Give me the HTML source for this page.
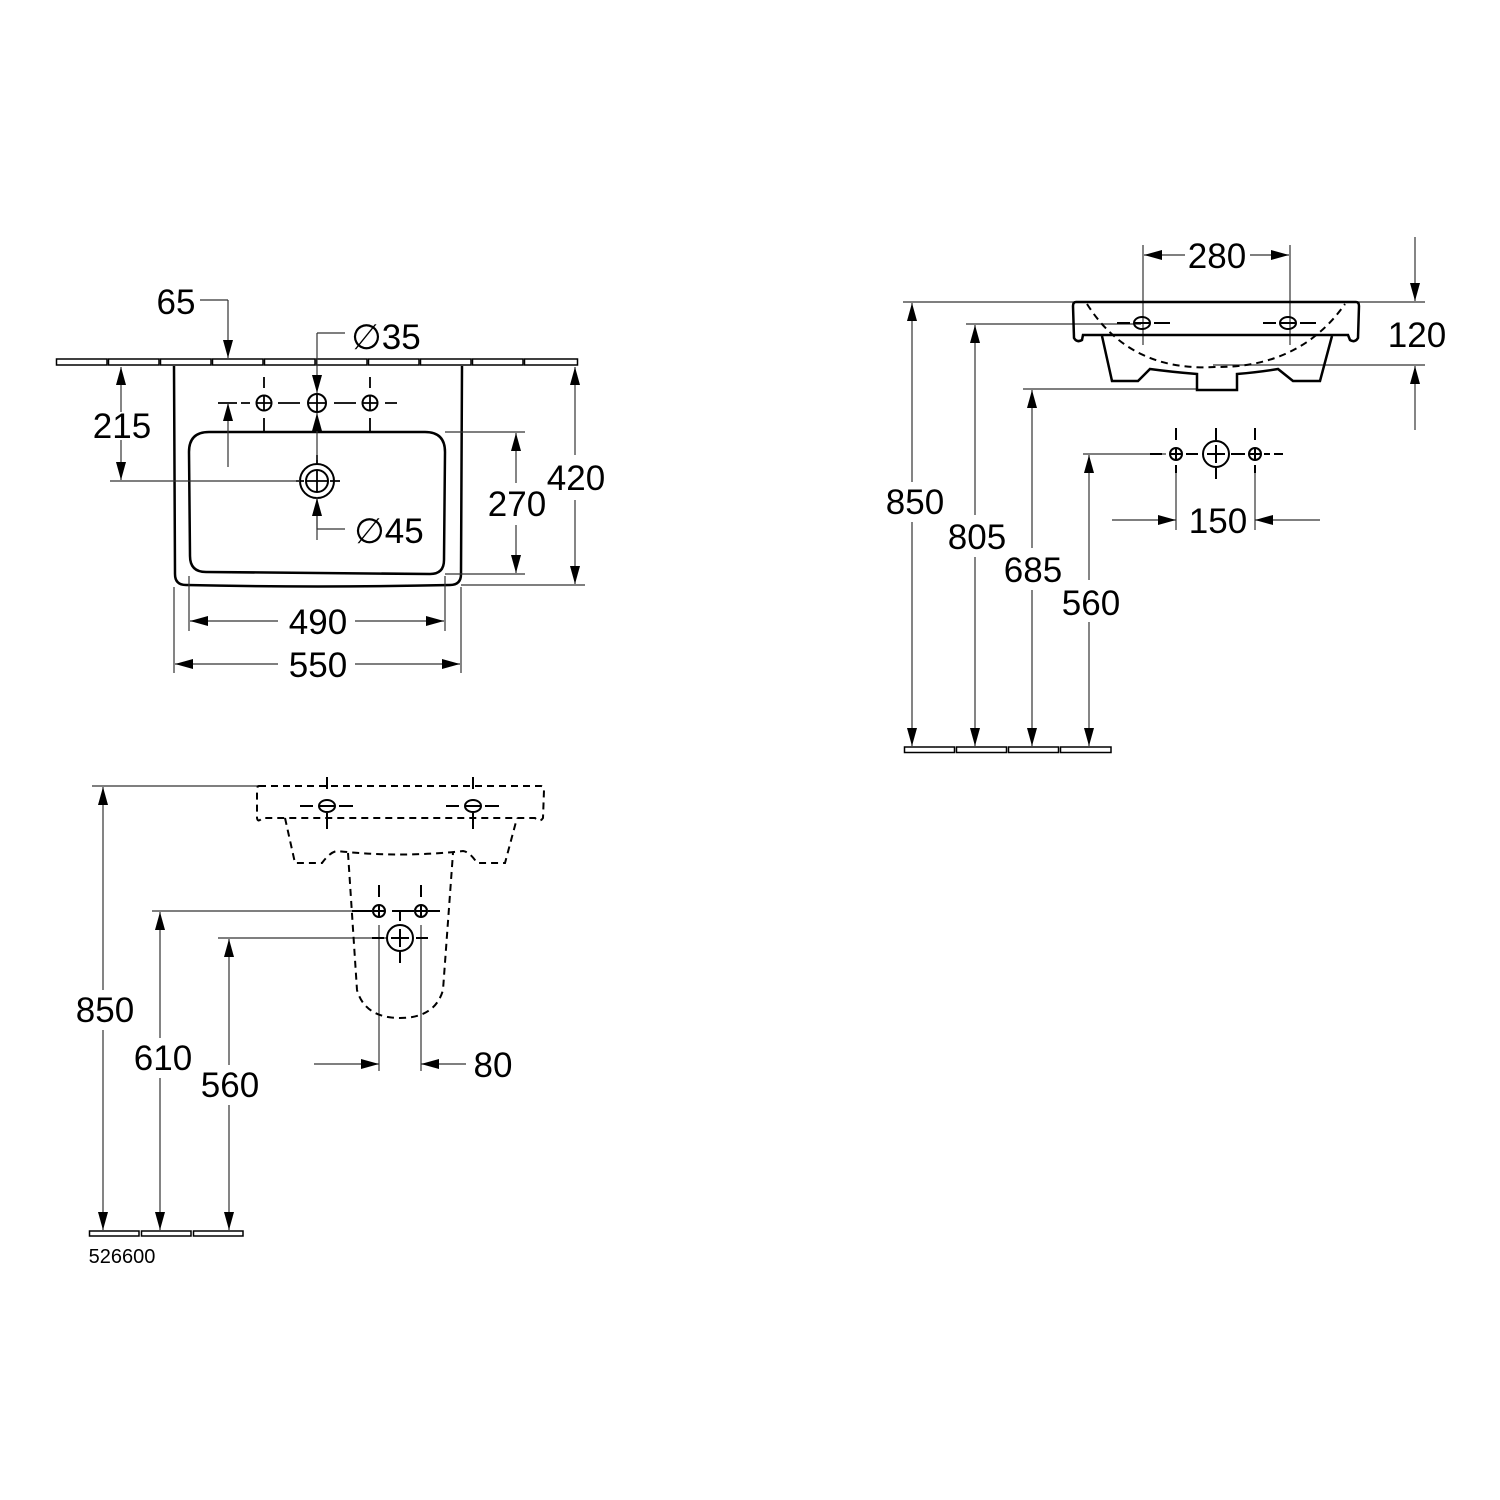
<!DOCTYPE html>
<html><head><meta charset="utf-8"><style>
html,body{margin:0;padding:0;background:#fff}
svg{display:block}
text{font-family:"Liberation Sans","DejaVu Sans",sans-serif;font-size:35px;fill:#000;text-anchor:middle}
</style></head><body>
<svg width="1500" height="1500" viewBox="0 0 1500 1500" xmlns="http://www.w3.org/2000/svg">
<defs>
<marker id="a" viewBox="0 0 18 10" refX="18" refY="5" markerWidth="18" markerHeight="10" markerUnits="userSpaceOnUse" orient="auto-start-reverse">
<path d="M0,0 L18,5 L0,10 z" fill="#000"/></marker>
</defs>
<rect width="1500" height="1500" fill="#fff"/>

<!-- ============ TOP LEFT ============ -->
<g fill="#fff" stroke="#000" stroke-width="1.5">
<rect x="56.5" y="359" width="50.5" height="6"/><rect x="108.5" y="359" width="50.5" height="6"/>
<rect x="160.5" y="359" width="50.5" height="6"/><rect x="212.5" y="359" width="50.5" height="6"/>
<rect x="264.5" y="359" width="50.5" height="6"/><rect x="316.5" y="359" width="50.5" height="6"/>
<rect x="368.5" y="359" width="50.5" height="6"/><rect x="420.5" y="359" width="50.5" height="6"/>
<rect x="472.5" y="359" width="50.5" height="6"/><rect x="524.5" y="359" width="53" height="6"/>
</g>
<g fill="none" stroke="#000" stroke-width="2.5">
<path d="M174,366 L175,574 Q175,585 186,585 Q318,588 450,585 Q461,585 461,574 L462,366"/>
<path d="M209,432 L425,432 Q445,432 445,452 L444,560 Q444,574 430,574 L206,572 Q190,572 190,556 L189,452 Q189,432 209,432 Z"/>
</g>
<g fill="none" stroke="#000" stroke-width="2">
<circle cx="264" cy="403" r="7.5"/><circle cx="317" cy="403" r="9"/><circle cx="370" cy="403" r="7.5"/>
<circle cx="317" cy="481" r="17"/><circle cx="317" cy="481" r="11"/>
</g>
<g stroke="#000" stroke-width="1.8">
<path d="M257,403h14M264,396v14M308,403h18M317,394v18M363,403h14M370,396v14M306,481h22M317,470v22"/>
<path d="M264,377v11M264,418v14M370,377v11M370,418v14M218,403h19M241,403h9M278,403h22M334,403h22M385,403h12"/>
<path d="M296,481h8M330,481h10M317,455v10"/>
</g>
<g stroke="#333" stroke-width="1.2" fill="none">
<path d="M110,481h190"/>
<line x1="121" y1="367" x2="121" y2="412" marker-start="url(#a)"/>
<line x1="121" y1="440" x2="121" y2="480" marker-end="url(#a)"/>
<path d="M200,300h28"/>
<line x1="228" y1="300" x2="228" y2="358" marker-end="url(#a)"/>
<line x1="228" y1="467" x2="228" y2="403" marker-end="url(#a)"/>
<path d="M317,333h28"/>
<line x1="317" y1="333" x2="317" y2="393" marker-end="url(#a)"/>
<line x1="317" y1="460" x2="317" y2="413" marker-end="url(#a)"/>
<path d="M317,497v32h28"/>
<line x1="317" y1="540" x2="317" y2="498" marker-end="url(#a)"/>
<path d="M445,432h80M445,574h80M461,585h124"/>
<line x1="516" y1="433" x2="516" y2="483" marker-start="url(#a)"/>
<line x1="516" y1="525" x2="516" y2="573" marker-end="url(#a)"/>
<line x1="575" y1="367" x2="575" y2="455" marker-start="url(#a)"/>
<line x1="575" y1="500" x2="575" y2="584" marker-end="url(#a)"/>
<path d="M189,576v55M445,576v55M174,587v86M461,587v86"/>
<line x1="190" y1="621" x2="278" y2="621" marker-start="url(#a)"/>
<line x1="355" y1="621" x2="444" y2="621" marker-end="url(#a)"/>
<line x1="175" y1="664" x2="278" y2="664" marker-start="url(#a)"/>
<line x1="355" y1="664" x2="460" y2="664" marker-end="url(#a)"/>
</g>
<text x="176" y="314">65</text>
<text x="122" y="438">215</text>
<text x="386" y="349">∅35</text>
<text x="389" y="543">∅45</text>
<text x="517" y="516">270</text>
<text x="576" y="490">420</text>
<text x="318" y="634">490</text>
<text x="318" y="677">550</text>

<!-- ============ RIGHT ============ -->
<g fill="#fff" stroke="#000" stroke-width="1.5">
<rect x="904.5" y="747" width="50" height="5.5"/><rect x="956.5" y="747" width="50" height="5.5"/>
<rect x="1008.5" y="747" width="50" height="5.5"/><rect x="1060.5" y="747" width="50.5" height="5.5"/>
</g>
<g stroke="#333" stroke-width="1.2" fill="none">
<path d="M903,302h522M966,324h175M1213,365h212M1023,389h175M1083,454h83"/>
<path d="M1143,245v100M1290,245v100"/>
<line x1="1144" y1="255" x2="1185" y2="255" marker-start="url(#a)"/>
<line x1="1250" y1="255" x2="1289" y2="255" marker-end="url(#a)"/>
<line x1="1415" y1="237" x2="1415" y2="301" marker-end="url(#a)"/>
<line x1="1415" y1="430" x2="1415" y2="366" marker-end="url(#a)"/>
<line x1="912" y1="303" x2="912" y2="482" marker-start="url(#a)"/>
<line x1="912" y1="522" x2="912" y2="746" marker-end="url(#a)"/>
<line x1="975" y1="325" x2="975" y2="515" marker-start="url(#a)"/>
<line x1="975" y1="557" x2="975" y2="746" marker-end="url(#a)"/>
<line x1="1032" y1="390" x2="1032" y2="548" marker-start="url(#a)"/>
<line x1="1032" y1="590" x2="1032" y2="746" marker-end="url(#a)"/>
<line x1="1089" y1="455" x2="1089" y2="580" marker-start="url(#a)"/>
<line x1="1089" y1="622" x2="1089" y2="746" marker-end="url(#a)"/>
<path d="M1176,470v60M1255,470v60"/>
<line x1="1112" y1="520" x2="1176" y2="520" marker-end="url(#a)"/>
<line x1="1320" y1="520" x2="1255" y2="520" marker-end="url(#a)"/>
</g>
<g fill="none" stroke="#000" stroke-width="2.5">
<path d="M1076,302 L1356,302 Q1359,302 1359,306 L1358,338 Q1355,343 1350,340 L1348,335 L1083,335 L1082,340 Q1077,343 1074,338 L1073,306 Q1073,302 1076,302 Z"/>
<path d="M1102,336 L1112,381 L1138,381 L1150,369 Q1172,372 1197,374 L1197,390 L1237,390 L1237,374 Q1260,372 1278,369 L1293,381 L1320,381 L1332,336"/>
</g>
<path d="M1087,304 Q1130,372 1215,367 Q1300,368 1345,304" fill="none" stroke="#000" stroke-width="2" stroke-dasharray="7,5"/>
<g fill="none" stroke="#000" stroke-width="2">
<ellipse cx="1142" cy="323" rx="8" ry="6"/><ellipse cx="1288" cy="323" rx="8" ry="6"/>
<path d="M1117,323h13M1134,323h16M1154,323h16M1263,323h13M1280,323h16M1300,323h16"/>
<circle cx="1176" cy="454" r="6"/><circle cx="1216" cy="454" r="13"/><circle cx="1255" cy="454" r="6"/>
<path d="M1170,454h12M1176,448v12M1207,454h18M1216,445v18M1249,454h12M1255,448v12"/>
<path d="M1150,454h12M1186,454h12M1231,454h14M1264,454h6M1274,454h9M1176,428v12M1176,465v8M1216,428v12M1216,468v11M1255,428v12M1255,465v8"/>
</g>
<text x="1217" y="268">280</text>
<text x="1417" y="347">120</text>
<text x="915" y="514">850</text>
<text x="977" y="549">805</text>
<text x="1033" y="582">685</text>
<text x="1091" y="615">560</text>
<text x="1218" y="533">150</text>

<!-- ============ BOTTOM LEFT ============ -->
<g fill="#fff" stroke="#000" stroke-width="1.5">
<rect x="89.5" y="1231" width="49.5" height="5"/><rect x="141.5" y="1231" width="49.5" height="5"/><rect x="193.5" y="1231" width="49.5" height="5"/>
</g>
<g stroke="#333" stroke-width="1.2" fill="none">
<path d="M92,786h166M152,911h220M218,938h170"/>
<line x1="103" y1="787" x2="103" y2="990" marker-start="url(#a)"/>
<line x1="103" y1="1030" x2="103" y2="1230" marker-end="url(#a)"/>
<line x1="160" y1="912" x2="160" y2="1038" marker-start="url(#a)"/>
<line x1="160" y1="1078" x2="160" y2="1230" marker-end="url(#a)"/>
<line x1="229" y1="939" x2="229" y2="1065" marker-start="url(#a)"/>
<line x1="229" y1="1105" x2="229" y2="1230" marker-end="url(#a)"/>
<path d="M379,925v146M421,925v146"/>
<line x1="314" y1="1064" x2="379" y2="1064" marker-end="url(#a)"/>
<line x1="466" y1="1064" x2="421" y2="1064" marker-end="url(#a)"/>
</g>
<g fill="none" stroke="#000" stroke-width="2" stroke-dasharray="7,5">
<path d="M259,786 L541,786 Q544,786 544,790 L543,818 Q540,823 535,818 L262,818 Q258,823 257,818 L257,790 Q257,786 259,786"/>
<path d="M285,818 L295,863 L322,863 Q330,852 337,851 Q400,858 463,851 Q470,852 477,863 L505,863 L517,818"/>
<path d="M348,853 L357,990 Q365,1018 400,1018 Q435,1018 443,990 L453,853"/>
</g>
<g fill="none" stroke="#000" stroke-width="2">
<ellipse cx="327" cy="806" rx="8" ry="6"/><ellipse cx="473" cy="806" rx="8" ry="6"/>
<path d="M300,806h13M319,806h16M339,806h14M446,806h13M465,806h16M485,806h14M327,777v12M327,813v16M473,777v12M473,813v16"/>
<circle cx="379" cy="911" r="6"/><circle cx="421" cy="911" r="6"/><circle cx="400" cy="938" r="13"/>
<path d="M373,911h12M379,905v12M415,911h12M421,905v12M391,938h18M400,929v18"/>
<path d="M379,885v12M421,885v12M352,911h20M392,911h22M428,911h12M400,911v10M372,938h12M416,938h12M400,951v12"/>
</g>
<text x="105" y="1022">850</text>
<text x="163" y="1070">610</text>
<text x="230" y="1097">560</text>
<text x="493" y="1077">80</text>
<text x="122" y="1263" style="font-size:20px">526600</text>
</svg>
</body></html>
